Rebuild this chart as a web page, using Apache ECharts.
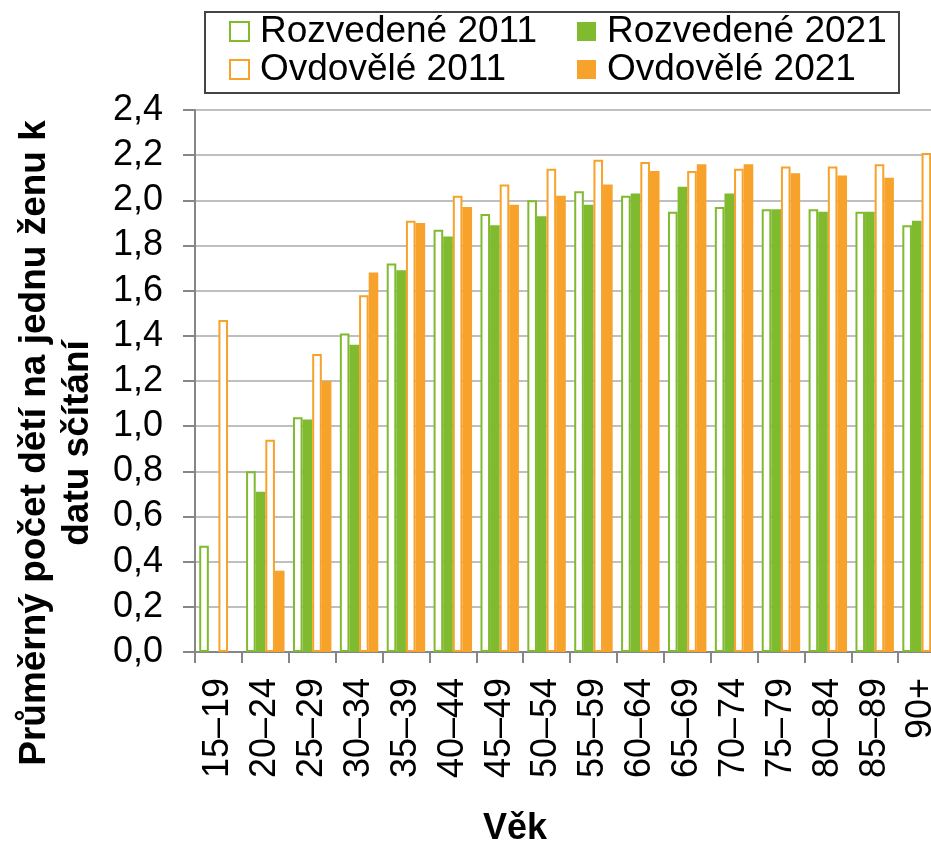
<!DOCTYPE html>
<html>
<head>
<meta charset="utf-8">
<script src="https://cdn.jsdelivr.net/npm/echarts@6/dist/echarts.min.js"></script>
<style>
  html, body { margin: 0; padding: 0; background: #fff; }
  #chart { width: 931px; height: 844px; }
</style>
</head>
<body>
<div id="chart"></div>
<script>
const ageGroups = ["15–19", "20–24", "25–29", "30–34", "35–39", "40–44", "45–49", "50–54",
  "55–59", "60–64", "65–69", "70–74", "75–79", "80–84", "85–89", "90+"];

const divorced2011 = [0.47, 0.80, 1.04, 1.41, 1.72, 1.87, 1.94, 2.00, 2.04, 2.02, 1.95, 1.97, 1.96, 1.96, 1.95, 1.89];
const divorced2021 = [null, 0.71, 1.03, 1.36, 1.69, 1.84, 1.89, 1.93, 1.98, 2.03, 2.06, 2.03, 1.96, 1.95, 1.95, 1.91];
const widowed2011 = [1.47, 0.94, 1.32, 1.58, 1.91, 2.02, 2.07, 2.14, 2.18, 2.17, 2.13, 2.14, 2.15, 2.15, 2.16, 2.21];
const widowed2021 = [null, 0.36, 1.20, 1.68, 1.90, 1.97, 1.98, 2.02, 2.07, 2.13, 2.16, 2.16, 2.12, 2.11, 2.10, 2.09];

const GREEN = "#7fba2f";
const ORANGE = "#f7a22a";
const FONT = "Liberation Sans, Arial, sans-serif";

const chart = echarts.init(document.getElementById("chart"));

// prázdné sloupce = 2011, plné = 2021
const hollow = (name, color, data) => ({
  name,
  type: "bar",
  data,
  itemStyle: { color: "#fff", borderColor: color, borderWidth: 2 },
});
const filled = (name, color, data) => ({
  name,
  type: "bar",
  data,
  itemStyle: { color },
});

const legendText = { fontFamily: FONT, fontSize: 37, color: "#000", padding: [0, 0, 0, 6] };
const legendBase = {
  orient: "vertical",
  top: 13,
  padding: 0,
  itemWidth: 19,
  itemHeight: 19,
  itemGap: 1,
  icon: "rect",
  textStyle: legendText,
};

chart.setOption({
  animation: false,
  textStyle: { fontFamily: FONT },
  // graf je vpravo oříznutý – mřížka přesahuje okno
  grid: { left: 195, width: 750, top: 110, bottom: 192, outerBoundsMode: "none" },
  legend: [
    Object.assign({ left: 229, data: ["Rozvedené 2011", "Ovdovělé 2011"] }, legendBase),
    Object.assign({ left: 577, data: ["Rozvedené 2021", "Ovdovělé 2021"] }, legendBase),
  ],
  xAxis: {
    type: "category",
    data: ageGroups,
    axisLine: { lineStyle: { color: "#868686", width: 2 } },
    axisTick: { show: true, length: 11, lineStyle: { color: "#868686", width: 2 } },
    axisLabel: {
      interval: 0,
      rotate: 90,
      margin: 26,
      fontSize: 36,
      color: "#000",
      fontFamily: FONT,
    },
  },
  yAxis: {
    type: "value",
    min: 0,
    max: 2.4,
    interval: 0.2,
    axisLine: { show: true, lineStyle: { color: "#868686", width: 2 } },
    axisTick: { show: true, length: 12, lineStyle: { color: "#868686", width: 2 } },
    splitLine: { lineStyle: { color: "#bfbfbf", width: 2 } },
    axisLabel: {
      margin: 32,
      fontSize: 36,
      color: "#000",
      fontFamily: FONT,
      formatter: (v) => v.toFixed(1).replace(".", ","),
    },
  },
  graphic: [
    {
      type: "rect",
      shape: { x: 205, y: 12, width: 694, height: 81 },
      style: { fill: "none", stroke: "#444", lineWidth: 2 },
    },
    {
      type: "text",
      x: 56,
      y: 443,
      rotation: Math.PI / 2,
      style: {
        text: "Průměrný počet dětí na jednu ženu k\ndatu sčítání",
        font: "bold 37px " + FONT,
        fill: "#000",
        align: "center",
        verticalAlign: "middle",
        lineHeight: 43,
      },
    },
    {
      type: "text",
      x: 515,
      y: 829,
      style: {
        text: "Věk",
        font: "bold 36px " + FONT,
        fill: "#000",
        align: "center",
        verticalAlign: "middle",
      },
    },
  ],
  series: [
    hollow("Rozvedené 2011", GREEN, divorced2011),
    filled("Rozvedené 2021", GREEN, divorced2021),
    hollow("Ovdovělé 2011", ORANGE, widowed2011),
    filled("Ovdovělé 2021", ORANGE, widowed2021),
  ].map((s) => Object.assign(s, { barGap: "0%", barCategoryGap: "18%" })),
});
</script>
</body>
</html>
